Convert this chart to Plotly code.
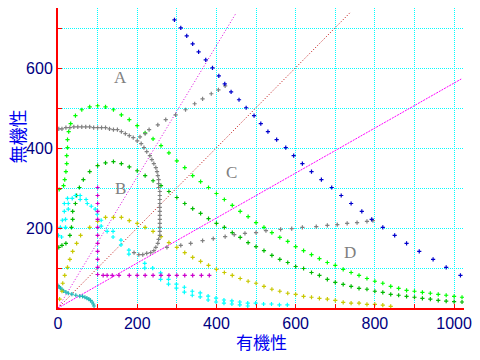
import plotly.graph_objects as go

# ---- data ----
blue_x = [294, 310, 325, 340, 355, 373, 390, 406, 421, 437, 457, 475, 495, 512, 530, 552, 575,
          595, 617, 640, 665, 691, 715, 740, 767, 792, 820, 850, 880, 912, 947, 980, 1016]
blue_y = [722, 702, 682, 662, 642, 622, 602, 582, 562, 542, 522, 502, 482, 462, 442, 422, 402,
          382, 362, 342, 322, 302, 282, 262, 242, 222, 202, 182, 162, 142, 122, 102, 82]

green_x = [3, 14, 17, 20, 22, 22, 24, 24, 27, 32, 44, 60, 80, 100, 120, 140, 160, 180, 200, 220,
           240, 260, 280, 300, 320, 340, 360, 380, 400, 420, 440, 460, 480, 500, 520, 540, 560,
           580, 600, 620, 640, 660, 680, 700, 720, 740, 760, 780, 800, 820, 840, 860, 880, 900,
           920, 940, 960, 980, 1000, 1020]
green_y = [297, 307, 322, 342, 362, 382, 402, 422, 442, 462, 482, 497, 504, 507, 504, 497, 484,
           472, 457, 439, 424, 407, 389, 369, 352, 332, 317, 302, 287, 272, 257, 242, 229, 214,
           202, 189, 177, 167, 154, 144, 134, 124, 114, 107, 97, 89, 82, 74, 67, 62, 54, 49, 44,
           42, 39, 37, 34, 32, 29, 27]

dgreen_x = [2, 10, 20, 30, 34, 37, 37, 44, 47, 54, 64, 80, 100, 120, 140, 160, 180, 200, 220,
            240, 260, 280, 300, 320, 340, 360, 380, 400, 420, 440, 460, 480, 500, 520, 540, 560,
            580, 600, 620, 640, 660, 680, 700, 720, 740, 760, 780, 800, 820, 840, 860, 880, 900,
            920, 940, 960, 980, 1000, 1020]
dgreen_y = [152, 157, 162, 182, 202, 222, 242, 262, 282, 302, 322, 342, 357, 364, 367, 362, 354,
            344, 332, 319, 307, 292, 277, 262, 249, 237, 224, 212, 202, 189, 177, 164, 154, 144,
            132, 122, 114, 104, 99, 89, 82, 72, 64, 59, 54, 49, 47, 42, 39, 34, 32, 29, 27, 24,
            22, 19, 17, 16, 15]

olive_x = [4, 10, 12, 17, 24, 30, 37, 47, 57, 80, 100, 120, 140, 160, 180, 200, 220, 240, 260,
           280, 300, 320, 340, 360, 380, 400, 420, 440, 460, 480, 500, 520, 540, 560, 580, 600,
           620, 640, 660, 680, 700, 720, 740, 760, 780, 800, 820, 840]
olive_y = [22, 42, 62, 82, 102, 122, 142, 162, 182, 202, 217, 227, 227, 227, 219, 212, 202, 192,
           179, 164, 152, 139, 127, 117, 107, 97, 89, 82, 74, 67, 62, 54, 47, 42, 37, 34, 29, 27,
           24, 22, 19, 14, 12, 12, 9, 9, 7, 4]

cyanA_x = [6, 11, 16, 16, 24, 44, 56, 71, 84, 99, 109, 124, 159, 179, 219, 259, 279, 299, 319,
           339, 359, 379, 399, 419, 439, 459, 479, 499, 519, 539, 559, 579]
cyanA_y = [202, 220, 242, 262, 275, 282, 282, 272, 255, 235, 220, 192, 170, 145, 112, 88, 72, 60,
           52, 42, 38, 30, 25, 20, 18, 15, 12, 12, 10, 10, 8, 8]

cyanB_x = [1, 9, 19, 19, 26, 26, 36, 56, 74, 94, 109, 139, 139, 159, 179, 219, 239, 259, 279,
           299, 319, 339, 359, 379, 399, 419, 439, 459, 479]
cyanB_y = [182, 178, 202, 222, 248, 262, 275, 272, 262, 248, 205, 192, 178, 158, 135, 100, 100,
           72, 60, 50, 40, 32, 28, 20, 15, 12, 10, 8, 5]

teal_x = [0, 3, 6, 10, 14, 20, 26, 35, 45, 55, 62, 68, 73, 78, 82, 86, 89, 91]
teal_y = [56, 53, 50, 46, 43, 40, 37, 35, 32, 30, 29, 27, 25, 22, 19, 15, 10, 5]

gray_loop_x = [2, 10, 20, 30, 40, 50, 60, 70, 80, 90, 100, 110, 120, 130, 140, 150, 160, 170,
               180, 190, 200, 210, 217, 224, 232, 237, 242, 247, 250, 252, 254, 254, 254, 257,
               257, 257, 257, 257, 257, 257, 257, 257, 257, 257, 257, 254, 252, 247, 242, 234,
               224, 214, 204, 192]
gray_loop_y = [449, 449, 452, 452, 454, 454, 454, 454, 454, 452, 452, 452, 452, 449, 447, 447,
               442, 437, 432, 427, 419, 412, 402, 392, 382, 372, 362, 352, 342, 332, 322, 312,
               302, 292, 282, 272, 262, 252, 242, 232, 222, 212, 202, 192, 182, 172, 162, 152,
               144, 139, 137, 134, 134, 139]

gray_up_x = [207, 220, 230, 252, 272, 297, 322, 345, 365, 387, 405, 422]
gray_up_y = [429, 437, 447, 459, 472, 484, 497, 512, 524, 537, 547, 557]

gray_low_x = [275, 310, 335, 365, 392, 422, 445, 472, 500, 525, 562, 590, 617, 652, 680, 705,
              730, 755, 780, 795]
gray_low_y = [152, 157, 162, 169, 174, 179, 184, 187, 189, 194, 197, 199, 202, 204, 207, 209,
              212, 214, 217, 219]

mag_x = [100, 100, 100, 100, 100, 100, 100, 100, 100, 100, 100, 100,
         114, 124, 137, 154, 180, 200, 220, 240, 260, 280, 300, 320, 340, 362, 382]
mag_y = [302, 282, 262, 242, 222, 202, 182, 162, 142, 122, 102, 84,
         82, 82, 82, 82, 82, 82, 82, 82, 82, 82, 82, 82, 82, 82, 82]

lineA_x = [0, 450]
lineA_y = [0, 740]
lineB_x = [0, 737]
lineB_y = [0, 740]
lineC_x = [0, 1018]
lineC_y = [0, 574]

region_labels = ["A", "B", "C", "D"]
region_x = [158, 158, 437, 737]
region_y = [579, 299, 339, 139]

x_ticks = [0, 100, 200, 300, 400, 500, 600, 700, 800, 900, 1000]
x_ticktext = ["0", "", "200", "", "400", "", "600", "", "800", "", "1000"]
y_ticks = [0, 100, 200, 300, 400, 500, 600, 700]
y_ticktext = ["", "", "200", "", "400", "", "600", ""]

# ---- figure ----
fig = go.Figure()

def lines(x, y, color, dash):
    fig.add_trace(go.Scatter(x=x, y=y, mode="lines", line=dict(color=color, width=1, dash=dash),
                             hoverinfo="skip", showlegend=False))

lines(lineA_x, lineA_y, "#dd00dd", "1px,2px")
lines(lineB_x, lineB_y, "#bb0000", "1px,2px")
lines(lineC_x, lineC_y, "#ff00ff", "2px,1px")

def crosses(x, y, color):
    fig.add_trace(go.Scatter(x=x, y=y, mode="markers",
                             marker=dict(symbol="cross-thin", size=3, color=color,
                                         line=dict(color=color, width=1.2)),
                             showlegend=False))

crosses(teal_x, teal_y, "#20b8b8")
crosses(olive_x, olive_y, "#c8c800")
crosses(dgreen_x, dgreen_y, "#00bb00")
crosses(green_x, green_y, "#00ff00")
crosses(cyanA_x, cyanA_y, "#00ffff")
crosses(cyanB_x, cyanB_y, "#00ffff")
crosses(mag_x, mag_y, "#cc00cc")
crosses(gray_loop_x, gray_loop_y, "#808080")
crosses(gray_up_x, gray_up_y, "#808080")
crosses(gray_low_x, gray_low_y, "#808080")
crosses(blue_x, blue_y, "#0000cc")

for t, x, y in zip(region_labels, region_x, region_y):
    fig.add_annotation(x=x, y=y, text=t, showarrow=False,
                       font=dict(family="Liberation Serif", size=17, color="#808080"))

fig.add_annotation(xref="paper", yref="paper", x=0.500, y=-0.11, text="有機性", showarrow=False,
                   xanchor="center", yanchor="middle",
                   font=dict(family="Noto Sans CJK JP", size=17, color="#0000ee"))
fig.add_annotation(xref="paper", yref="paper", x=-0.102, y=0.57, text="無機性", showarrow=False,
                   textangle=-90, xanchor="center", yanchor="middle",
                   font=dict(family="Noto Sans CJK JP", size=18, color="#0000ee"))

axis_common = dict(
    showline=True, linecolor="#ff0000", linewidth=2,
    ticks="inside", ticklen=4, tickcolor="#ff0000", tickwidth=1,
    showgrid=True, gridcolor="#00ffff", gridwidth=1, griddash="1px,1px",
    zeroline=False, tickfont=dict(family="Liberation Sans", size=16, color="#000080"),
    tickmode="array",
)

fig.update_layout(
    width=480, height=360,
    margin=dict(l=58, r=12, t=8, b=52),
    paper_bgcolor="white", plot_bgcolor="white",
    xaxis=dict(range=[0, 1025], tickvals=x_ticks, ticktext=x_ticktext, **axis_common),
    yaxis=dict(range=[0, 752], tickvals=y_ticks, ticktext=y_ticktext, **axis_common),
)

fig.write_html("out.html")
